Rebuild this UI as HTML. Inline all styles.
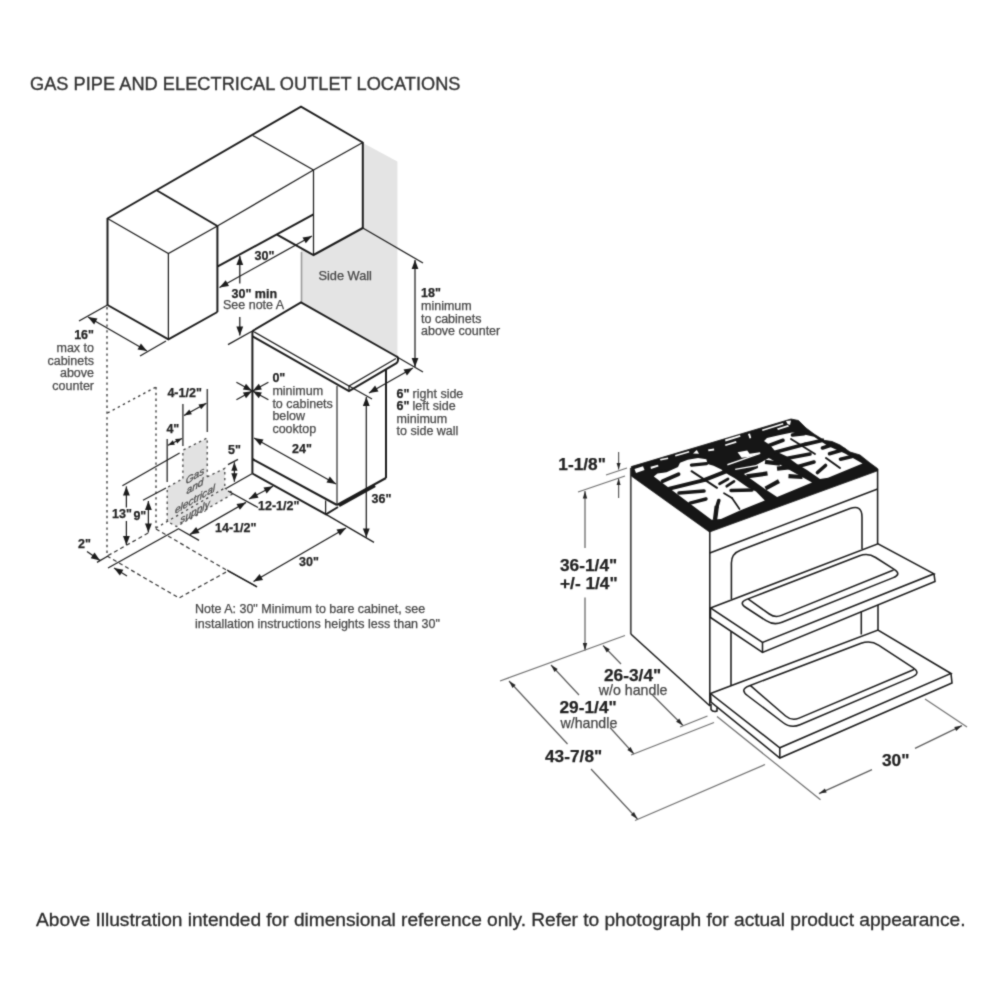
<!DOCTYPE html>
<html lang="en"><head><meta charset="utf-8"><title>Gas pipe and electrical outlet locations</title>
<style>
html,body{margin:0;padding:0;background:#fff;}
body{width:1000px;height:1000px;overflow:hidden;position:relative;font-family:"Liberation Sans",sans-serif;}
svg{position:absolute;left:0;top:0;display:block;}
svg text{font-family:"Liberation Sans",sans-serif;}
</style></head><body>
<svg width="1000" height="1000" viewBox="0 0 1000 1000">
<defs><filter id="soft" filterUnits="userSpaceOnUse" x="0" y="0" width="1000" height="1000" color-interpolation-filters="sRGB"><feConvolveMatrix order="3" kernelMatrix="0.03 0.1 0.03 0.1 0.48 0.1 0.03 0.1 0.03" edgeMode="duplicate" preserveAlpha="true"/></filter></defs>
<g filter="url(#soft)">
<rect width="1000" height="1000" fill="#fff"/>
<text x="30" y="90.4" font-size="18.2" fill="#333" stroke="#333" stroke-width="0.35" textLength="430.5" lengthAdjust="spacing">GAS PIPE AND ELECTRICAL OUTLET LOCATIONS</text>
<g id="left">
<path d="M301,248 L313.5,255 L363,228 L363,143 L397.4,161.5 L397.4,357 L301,302.5 Z" stroke="none" stroke-width="0" fill="#e4e4e4" />
<line x1="301.5" y1="252" x2="301.5" y2="302.5" stroke="#9a9a9a" stroke-width="1.6" />
<path d="M107.5,218.5 L301,106.6 L362.8,142.5" stroke="#1c1c1c" stroke-width="2.0" fill="none" />
<path d="M157,190.5 L217.4,226" stroke="#1c1c1c" stroke-width="2.0" fill="none" />
<path d="M107.5,218.5 L168.4,253.6 L217.4,226" stroke="#1c1c1c" stroke-width="1.25" fill="none" />
<line x1="107.5" y1="218" x2="107.5" y2="305" stroke="#1c1c1c" stroke-width="2.0" />
<line x1="168.4" y1="253.6" x2="168.4" y2="339.4" stroke="#1c1c1c" stroke-width="1.25" />
<line x1="217.4" y1="226" x2="217.4" y2="312" stroke="#1c1c1c" stroke-width="2.0" />
<path d="M107.5,305 L168.4,339.4 L217.4,312" stroke="#1c1c1c" stroke-width="2.0" fill="none" />
<line x1="253" y1="135.6" x2="313.5" y2="170" stroke="#1c1c1c" stroke-width="1.25" />
<line x1="217.4" y1="226" x2="313.5" y2="170" stroke="#1c1c1c" stroke-width="1.25" />
<line x1="217.8" y1="266.4" x2="313.5" y2="214.4" stroke="#1c1c1c" stroke-width="2.0" />
<line x1="362.8" y1="142.5" x2="313.5" y2="170" stroke="#1c1c1c" stroke-width="1.25" />
<line x1="313.5" y1="170" x2="313.5" y2="255" stroke="#1c1c1c" stroke-width="1.25" />
<line x1="362.8" y1="142" x2="362.8" y2="228" stroke="#1c1c1c" stroke-width="2.0" />
<path d="M277,234.6 L313.5,255 L362.8,228" stroke="#1c1c1c" stroke-width="2.0" fill="none" />
<line x1="362.8" y1="228" x2="423" y2="263" stroke="#1c1c1c" stroke-width="1.25" />
<path d="M252.4,331 L301,302.5 L397.4,357" stroke="#1c1c1c" stroke-width="2.0" fill="none" />
<path d="M252.4,331 L349,386 L396,358.5" stroke="#1c1c1c" stroke-width="1.25" fill="none" />
<path d="M252.6,336.4 L349,391 L396.5,363.2 Q398,362 398,360 L398,358.5 Q398,356.8 396.6,356.4" stroke="#1c1c1c" stroke-width="2.0" fill="none" />
<line x1="349" y1="386" x2="349" y2="391" stroke="#1c1c1c" stroke-width="1.25" />
<line x1="252.4" y1="331" x2="252.4" y2="473.5" stroke="#1c1c1c" stroke-width="2.0" />
<line x1="337" y1="386" x2="337" y2="505" stroke="#333" stroke-width="1.25" />
<line x1="386" y1="370" x2="386" y2="478" stroke="#1c1c1c" stroke-width="2.0" />
<line x1="252.4" y1="459" x2="337" y2="505" stroke="#1c1c1c" stroke-width="2.0" />
<path d="M252.4,473.5 L326,514.4 L338,507" stroke="#1c1c1c" stroke-width="2.0" fill="none" />
<line x1="325.6" y1="500.5" x2="325.6" y2="514" stroke="#1c1c1c" stroke-width="1.25" />
<line x1="337" y1="505" x2="386" y2="478" stroke="#1c1c1c" stroke-width="2.0" />
<line x1="339" y1="505.5" x2="375" y2="485.5" stroke="#1c1c1c" stroke-width="3.2" />
<line x1="252.4" y1="473.5" x2="226" y2="488.5" stroke="#1c1c1c" stroke-width="1.25" />
<line x1="326" y1="514.4" x2="374" y2="542.4" stroke="#1c1c1c" stroke-width="1.25" />
<line x1="253.5" y1="581.5" x2="346" y2="528" stroke="#1c1c1c" stroke-width="1.25" />
<polygon points="253.5,581.5 259.6,574.1 263.0,579.9" fill="#1c1c1c"/>
<polygon points="346.0,528.0 339.9,535.4 336.5,529.6" fill="#1c1c1c"/>
<line x1="227" y1="570" x2="257" y2="586.8" stroke="#1c1c1c" stroke-width="1.25" />
<text x="299" y="566" font-size="12.5" font-weight="bold" fill="#222" stroke="#222" stroke-width="0.25" text-anchor="start" >30&quot;</text>
<line x1="366.3" y1="397" x2="366.3" y2="537.5" stroke="#1c1c1c" stroke-width="1.25" />
<polygon points="366.3,397.0 369.7,406.0 362.9,406.0" fill="#1c1c1c"/>
<polygon points="366.3,537.5 362.9,528.5 369.7,528.5" fill="#1c1c1c"/>
<text x="371.5" y="503" font-size="12.5" font-weight="bold" fill="#222" stroke="#222" stroke-width="0.25" text-anchor="start" >36&quot;</text>
<line x1="254" y1="438" x2="336" y2="484" stroke="#1c1c1c" stroke-width="1.25" />
<polygon points="254.0,438.0 263.5,439.4 260.2,445.4" fill="#1c1c1c"/>
<polygon points="336.0,484.0 326.5,482.6 329.8,476.6" fill="#1c1c1c"/>
<text x="292" y="453" font-size="12.5" font-weight="bold" fill="#222" stroke="#222" stroke-width="0.25" text-anchor="start" >24&quot;</text>
<line x1="369" y1="393" x2="413" y2="368" stroke="#1c1c1c" stroke-width="1.25" />
<polygon points="369.0,393.0 375.1,385.6 378.5,391.5" fill="#1c1c1c"/>
<polygon points="413.0,368.0 406.9,375.4 403.5,369.5" fill="#1c1c1c"/>
<line x1="349" y1="386" x2="372" y2="399" stroke="#1c1c1c" stroke-width="1.25" />
<line x1="398" y1="357.5" x2="423" y2="372" stroke="#1c1c1c" stroke-width="1.25" />
<text x="396.5" y="397.6" font-size="12.5" font-weight="bold" fill="#222" stroke="#222" stroke-width="0.25" text-anchor="start" >6&quot;</text>
<text x="412.6" y="397.6" font-size="12.5" font-weight="normal" fill="#474747" stroke="#474747" stroke-width="0.25" text-anchor="start" >right side</text>
<text x="396.5" y="410.2" font-size="12.5" font-weight="bold" fill="#222" stroke="#222" stroke-width="0.25" text-anchor="start" >6&quot;</text>
<text x="412.6" y="410.2" font-size="12.5" font-weight="normal" fill="#474747" stroke="#474747" stroke-width="0.25" text-anchor="start" >left side</text>
<text x="396.5" y="422.8" font-size="12.5" font-weight="normal" fill="#474747" stroke="#474747" stroke-width="0.25" text-anchor="start" >minimum</text>
<text x="396.5" y="435.4" font-size="12.5" font-weight="normal" fill="#474747" stroke="#474747" stroke-width="0.25" text-anchor="start" >to side wall</text>
<line x1="415" y1="260" x2="415" y2="367" stroke="#1c1c1c" stroke-width="1.25" />
<polygon points="415.0,260.0 418.4,269.0 411.6,269.0" fill="#1c1c1c"/>
<polygon points="415.0,367.0 411.6,358.0 418.4,358.0" fill="#1c1c1c"/>
<text x="421" y="297.4" font-size="12.5" font-weight="bold" fill="#222" stroke="#222" stroke-width="0.25" text-anchor="start" >18&quot;</text>
<text x="421" y="310" font-size="12.5" font-weight="normal" fill="#474747" stroke="#474747" stroke-width="0.25" text-anchor="start" >minimum</text>
<text x="421" y="322.6" font-size="12.5" font-weight="normal" fill="#474747" stroke="#474747" stroke-width="0.25" text-anchor="start" >to cabinets</text>
<text x="421" y="335.3" font-size="12.5" font-weight="normal" fill="#474747" stroke="#474747" stroke-width="0.25" text-anchor="start" >above counter</text>
<text x="318.4" y="280.3" font-size="12.8" font-weight="normal" fill="#474747" stroke="#474747" stroke-width="0.25" text-anchor="start" >Side Wall</text>
<line x1="219.5" y1="287.5" x2="312" y2="236" stroke="#1c1c1c" stroke-width="1.25" />
<polygon points="219.5,287.5 225.7,280.2 229.0,286.1" fill="#1c1c1c"/>
<polygon points="312.0,236.0 305.8,243.3 302.5,237.4" fill="#1c1c1c"/>
<text x="254.5" y="260" font-size="12.5" font-weight="bold" fill="#222" stroke="#222" stroke-width="0.25" text-anchor="start" >30&quot;</text>
<line x1="239.8" y1="256" x2="239.8" y2="283.5" stroke="#1c1c1c" stroke-width="1.25" />
<polygon points="239.8,256.0 243.2,265.0 236.4,265.0" fill="#1c1c1c"/>
<line x1="239.8" y1="317" x2="239.8" y2="335.5" stroke="#1c1c1c" stroke-width="1.25" />
<polygon points="239.8,335.5 236.4,326.5 243.2,326.5" fill="#1c1c1c"/>
<line x1="228" y1="344.6" x2="252.4" y2="331" stroke="#1c1c1c" stroke-width="1.25" />
<text x="231.5" y="297.6" font-size="12.5" font-weight="bold" fill="#222" stroke="#222" stroke-width="0.25" text-anchor="start" >30&quot; min</text>
<text x="223" y="309.2" font-size="12.5" font-weight="normal" fill="#474747" stroke="#474747" stroke-width="0.25" text-anchor="start" >See note A</text>
<line x1="236.4" y1="382.2" x2="251.9" y2="390.725" stroke="#1c1c1c" stroke-width="1.25" />
<polygon points="251.9,390.7 242.9,389.5 246.0,383.8" fill="#1c1c1c"/>
<line x1="236.4" y1="399.8" x2="251.9" y2="391.275" stroke="#1c1c1c" stroke-width="1.25" />
<polygon points="251.9,391.3 246.0,398.2 242.9,392.5" fill="#1c1c1c"/>
<line x1="268.4" y1="382.2" x2="252.9" y2="390.725" stroke="#1c1c1c" stroke-width="1.25" />
<polygon points="252.9,390.7 258.8,383.8 261.9,389.5" fill="#1c1c1c"/>
<line x1="268.4" y1="399.8" x2="252.9" y2="391.275" stroke="#1c1c1c" stroke-width="1.25" />
<polygon points="252.9,391.3 261.9,392.5 258.8,398.2" fill="#1c1c1c"/>
<text x="272.4" y="382" font-size="12.5" font-weight="bold" fill="#222" stroke="#222" stroke-width="0.25" text-anchor="start" >0&quot;</text>
<text x="272.4" y="395" font-size="12.5" font-weight="normal" fill="#474747" stroke="#474747" stroke-width="0.25" text-anchor="start" >minimum</text>
<text x="272.4" y="407.5" font-size="12.5" font-weight="normal" fill="#474747" stroke="#474747" stroke-width="0.25" text-anchor="start" >to cabinets</text>
<text x="272.4" y="420" font-size="12.5" font-weight="normal" fill="#474747" stroke="#474747" stroke-width="0.25" text-anchor="start" >below</text>
<text x="272.4" y="432.5" font-size="12.5" font-weight="normal" fill="#474747" stroke="#474747" stroke-width="0.25" text-anchor="start" >cooktop</text>
<line x1="88" y1="317" x2="147" y2="351" stroke="#1c1c1c" stroke-width="1.25" />
<polygon points="88.0,317.0 97.5,318.5 94.1,324.4" fill="#1c1c1c"/>
<polygon points="147.0,351.0 137.5,349.5 140.9,343.6" fill="#1c1c1c"/>
<line x1="107.5" y1="305" x2="79" y2="321" stroke="#1c1c1c" stroke-width="1.25" />
<line x1="166" y1="341" x2="140" y2="356" stroke="#1c1c1c" stroke-width="1.25" />
<text x="94" y="339" font-size="12.5" font-weight="bold" fill="#222" stroke="#222" stroke-width="0.25" text-anchor="end" >16&quot;</text>
<text x="94" y="352" font-size="12.5" font-weight="normal" fill="#474747" stroke="#474747" stroke-width="0.25" text-anchor="end" >max to</text>
<text x="94" y="364.6" font-size="12.5" font-weight="normal" fill="#474747" stroke="#474747" stroke-width="0.25" text-anchor="end" >cabinets</text>
<text x="94" y="377.3" font-size="12.5" font-weight="normal" fill="#474747" stroke="#474747" stroke-width="0.25" text-anchor="end" >above</text>
<text x="94" y="390" font-size="12.5" font-weight="normal" fill="#474747" stroke="#474747" stroke-width="0.25" text-anchor="end" >counter</text>
<line x1="107" y1="307" x2="107" y2="557" stroke="#333" stroke-width="1.3" stroke-dasharray="2.4 3.4"/>
<line x1="156" y1="387" x2="156" y2="529" stroke="#333" stroke-width="1.3" stroke-dasharray="2.4 3.4"/>
<line x1="107.5" y1="413" x2="156" y2="387" stroke="#333" stroke-width="1.3" stroke-dasharray="2.4 3.4"/>
<path d="M107,556 L179,598 L228,571" stroke="#333" stroke-width="1.2" fill="none" stroke-dasharray="4 3"/>
<line x1="156" y1="529" x2="228" y2="571" stroke="#333" stroke-width="1.2" stroke-dasharray="4 3"/>
<line x1="228" y1="571" x2="257" y2="587" stroke="#1c1c1c" stroke-width="1.25" />
<line x1="108" y1="555.6" x2="150" y2="532" stroke="#333" stroke-width="1.2" stroke-dasharray="4 3"/>
<path d="M182.9,450.2 L207.2,438 L207.2,476.8 L224.8,468.4 L224.8,488 L233.6,493.4 L176.5,526.6 L167.2,521.3 L167.2,487.6 L182.9,478.6 Z" stroke="none" stroke-width="0" fill="#e2e2e2" />
<path d="M182.9,478.6 L182.9,450.2 L207.2,438 L207.2,476.8" stroke="#444" stroke-width="1.3" fill="none" stroke-dasharray="2.4 3.4"/>
<path d="M167.2,521.3 L167.2,487.6 L182.9,478.6" stroke="#444" stroke-width="1.3" fill="none" stroke-dasharray="2.4 3.4"/>
<path d="M207.2,476.8 L224.8,468.4 L224.8,488" stroke="#444" stroke-width="1.3" fill="none" stroke-dasharray="2.4 3.4"/>
<path d="M224.8,488 L233.6,493.4 L176.5,526.6 L167.2,521.3" stroke="#444" stroke-width="1.3" fill="none" stroke-dasharray="2.4 3.4"/>
<line x1="156" y1="528" x2="224.8" y2="488" stroke="#444" stroke-width="1.3" stroke-dasharray="2.4 3.4"/>
<text transform="matrix(1,-0.577,0,1,195,479)" x="0" y="0" font-style="italic" font-size="10.2" fill="#4c4c4c" stroke="#4c4c4c" stroke-width="0.3" text-anchor="middle">Gas</text>
<text transform="matrix(1,-0.577,0,1,195,489.5)" x="0" y="0" font-style="italic" font-size="10.2" fill="#4c4c4c" stroke="#4c4c4c" stroke-width="0.3" text-anchor="middle">and</text>
<text transform="matrix(1,-0.577,0,1,195,502.5)" x="0" y="0" font-style="italic" font-size="10.2" fill="#4c4c4c" stroke="#4c4c4c" stroke-width="0.3" text-anchor="middle">electrical</text>
<text transform="matrix(1,-0.577,0,1,195,515)" x="0" y="0" font-style="italic" font-size="10.2" fill="#4c4c4c" stroke="#4c4c4c" stroke-width="0.3" text-anchor="middle">supply</text>
<line x1="207.3" y1="389" x2="207.3" y2="432" stroke="#444" stroke-width="1.5" />
<line x1="182.9" y1="404" x2="182.9" y2="446" stroke="#444" stroke-width="1.5" />
<line x1="184" y1="415.5" x2="206.4" y2="403.2" stroke="#1c1c1c" stroke-width="1.25" />
<polygon points="184.0,415.5 189.3,409.5 191.9,414.3" fill="#1c1c1c"/>
<polygon points="206.4,403.2 201.1,409.2 198.5,404.4" fill="#1c1c1c"/>
<text x="167.4" y="397" font-size="12.5" font-weight="bold" fill="#222" stroke="#222" stroke-width="0.25" text-anchor="start" >4-1/2&quot;</text>
<line x1="167.2" y1="439" x2="167.2" y2="482" stroke="#444" stroke-width="1.5" />
<line x1="168" y1="445.3" x2="182" y2="438.5" stroke="#1c1c1c" stroke-width="1.25" />
<polygon points="168.0,445.3 172.8,440.2 174.9,444.7" fill="#1c1c1c"/>
<polygon points="182.0,438.5 177.2,443.6 175.1,439.1" fill="#1c1c1c"/>
<text x="166.4" y="433" font-size="12.5" font-weight="bold" fill="#222" stroke="#222" stroke-width="0.25" text-anchor="start" >4&quot;</text>
<line x1="234.4" y1="462.3" x2="234.4" y2="481.8" stroke="#1c1c1c" stroke-width="1.25" />
<polygon points="234.4,462.3 237.5,470.8 231.3,470.8" fill="#1c1c1c"/>
<polygon points="234.4,481.8 231.3,473.3 237.5,473.3" fill="#1c1c1c"/>
<line x1="228" y1="464.6" x2="238" y2="459.4" stroke="#1c1c1c" stroke-width="1.25" />
<text x="228" y="454.4" font-size="12.5" font-weight="bold" fill="#222" stroke="#222" stroke-width="0.25" text-anchor="start" >5&quot;</text>
<line x1="249" y1="499" x2="273" y2="486.3" stroke="#1c1c1c" stroke-width="1.25" />
<polygon points="249.0,499.0 255.4,491.8 258.5,497.8" fill="#1c1c1c"/>
<polygon points="273.0,486.3 266.6,493.5 263.5,487.5" fill="#1c1c1c"/>
<line x1="228" y1="491" x2="258" y2="507.5" stroke="#1c1c1c" stroke-width="1.25" />
<text x="258" y="510" font-size="12.5" font-weight="bold" fill="#222" stroke="#222" stroke-width="0.25" text-anchor="start" >12-1/2&quot;</text>
<line x1="190" y1="534.4" x2="246" y2="502.4" stroke="#1c1c1c" stroke-width="1.25" />
<polygon points="190.0,534.4 196.1,527.0 199.5,532.9" fill="#1c1c1c"/>
<polygon points="246.0,502.4 239.9,509.8 236.5,503.9" fill="#1c1c1c"/>
<line x1="179" y1="529" x2="199" y2="540.4" stroke="#1c1c1c" stroke-width="1.25" />
<text x="215" y="532.4" font-size="12.5" font-weight="bold" fill="#222" stroke="#222" stroke-width="0.25" text-anchor="start" >14-1/2&quot;</text>
<line x1="122.4" y1="485.8" x2="179.6" y2="453" stroke="#1c1c1c" stroke-width="1.25" />
<line x1="126.4" y1="486.4" x2="126.4" y2="507.5" stroke="#1c1c1c" stroke-width="1.25" />
<polygon points="126.4,486.4 129.8,495.4 123.0,495.4" fill="#1c1c1c"/>
<line x1="126.4" y1="521" x2="126.4" y2="545" stroke="#1c1c1c" stroke-width="1.25" />
<polygon points="126.4,545.0 123.0,536.0 129.8,536.0" fill="#1c1c1c"/>
<text x="112" y="518.4" font-size="12.5" font-weight="bold" fill="#222" stroke="#222" stroke-width="0.25" text-anchor="start" >13&quot;</text>
<line x1="143" y1="500.2" x2="166" y2="488" stroke="#1c1c1c" stroke-width="1.25" />
<line x1="148.4" y1="501" x2="148.4" y2="532.5" stroke="#1c1c1c" stroke-width="1.25" />
<polygon points="148.4,501.0 151.8,510.0 145.0,510.0" fill="#1c1c1c"/>
<polygon points="148.4,532.5 145.0,523.5 151.8,523.5" fill="#1c1c1c"/>
<text x="133.4" y="520" font-size="12.5" font-weight="bold" fill="#222" stroke="#222" stroke-width="0.25" text-anchor="start" >9&quot;</text>
<line x1="108" y1="568" x2="179" y2="528.5" stroke="#1c1c1c" stroke-width="1.25" />
<line x1="97" y1="562.4" x2="108" y2="556" stroke="#1c1c1c" stroke-width="1.25" />
<line x1="87" y1="551.5" x2="100" y2="560.5" stroke="#1c1c1c" stroke-width="1.25" />
<polygon points="100.0,560.5 90.7,558.2 94.5,552.6" fill="#1c1c1c"/>
<line x1="127" y1="576" x2="114" y2="568" stroke="#1c1c1c" stroke-width="1.25" />
<polygon points="114.0,568.0 123.4,569.8 119.9,575.6" fill="#1c1c1c"/>
<text x="78" y="548" font-size="12.5" font-weight="bold" fill="#222" stroke="#222" stroke-width="0.25" text-anchor="start" >2&quot;</text>
<text x="195" y="613" font-size="12.5" font-weight="normal" fill="#474747" stroke="#474747" stroke-width="0.25" text-anchor="start" >Note A: 30&quot; Minimum to bare cabinet, see</text>
<text x="195" y="628.4" font-size="12.5" font-weight="normal" fill="#474747" stroke="#474747" stroke-width="0.25" text-anchor="start" >installation instructions heights less than 30&quot;</text>
</g>
<g id="right">
<line x1="630.8" y1="468" x2="630.8" y2="634" stroke="#4a4a4a" stroke-width="1.8" />
<line x1="630.8" y1="634" x2="710" y2="706" stroke="#1c1c1c" stroke-width="1.55" />
<line x1="709.8" y1="531" x2="709.8" y2="706" stroke="#1c1c1c" stroke-width="1.55" />
<line x1="877.6" y1="469" x2="877.6" y2="544" stroke="#1c1c1c" stroke-width="1.55" />
<line x1="709.8" y1="553" x2="877.6" y2="489" stroke="#1c1c1c" stroke-width="1.55" />
<path d="M731.4,599 L731.4,563 Q731.4,553.5 740.5,550.2 L850,508.6 Q862,504.5 862,517 L862,549" stroke="#1c1c1c" stroke-width="1.55" fill="none" />
<line x1="731" y1="631.5" x2="731" y2="685.5" stroke="#1c1c1c" stroke-width="1.55" />
<line x1="861.3" y1="611.5" x2="861.3" y2="634.5" stroke="#1c1c1c" stroke-width="1.55" />
<line x1="878" y1="605" x2="878" y2="630" stroke="#1c1c1c" stroke-width="1.55" />
<path d="M710.5,608 L878,543.8 L934,573.8 L762.5,642.5 Z" stroke="#1c1c1c" stroke-width="1.55" fill="none" />
<path d="M710.5,608 L710.5,617.5 L762.5,652.5 L935,581.5 L934,573.8" stroke="#1c1c1c" stroke-width="1.55" fill="none" />
<line x1="762.5" y1="642.5" x2="762.5" y2="652.5" stroke="#1c1c1c" stroke-width="1.55" />
<path d="M745.8,607.5 Q738.3,602.6 746.7,599.4 L859.6,555.8 Q868.0,552.6 875.6,557.5 L894.2,569.4 Q901.8,574.3 893.4,577.6 L782.0,622.3 Q773.6,625.6 766.1,620.7 Z" stroke="#1c1c1c" stroke-width="1.55" fill="none" />
<path d="M748.0,598.9 L769.3,614.0 Q775.0,618.0 781.5,615.4 L893.6,570.0" stroke="#1c1c1c" stroke-width="1.55" fill="none" />
<path d="M710.5,693.5 L878,630 L951,673.5 L779.8,747.8 Z" stroke="#1c1c1c" stroke-width="1.55" fill="none" />
<path d="M710.5,693.5 L711,702 L779.8,758 L952,683 L951,673.5" stroke="#1c1c1c" stroke-width="1.55" fill="none" />
<line x1="779.8" y1="747.8" x2="779.8" y2="758" stroke="#1c1c1c" stroke-width="1.55" />
<path d="M747.4,695.5 Q739.5,689.4 748.9,685.9 L861.1,643.3 Q870.5,639.8 878.9,645.3 L912.9,667.7 Q921.3,673.2 912.1,677.1 L800.0,724.7 Q790.8,728.6 782.9,722.5 Z" stroke="#1c1c1c" stroke-width="1.55" fill="none" />
<path d="M750.5,685.6 L785.6,716.0 Q791.7,721.2 799.1,718.1 L914.0,669.5" stroke="#1c1c1c" stroke-width="1.55" fill="none" />
<path d="M711,704 L711,709.5 Q713,712.5 717,711 L717,707.5" stroke="#1c1c1c" stroke-width="1.55" fill="none" />
<path d="M631.3,466.6 L791,419 L798.5,420.5 L806,428 L814,434 L824,440.3 L832,441.5 L840,445 L850,452 L860,455 L870,463 L877.6,468.6 L877.6,470.8 L709.5,532 L631.3,476 Z" stroke="#161616" stroke-width="0.8" fill="#161616" />
<polygon points="634.5,469.0 643.0,466.2 644.5,470.0 636.0,473.0" fill="#fff"/>
<polygon points="650.5,466.8 658.0,464.8 658.5,466.5 651.0,469.0" fill="#fff"/>
<polygon points="660.0,459.0 668.0,457.5 668.2,459.0 660.5,460.5" fill="#fff"/>
<polygon points="675.0,455.0 689.0,451.0 689.3,452.5 675.5,456.5" fill="#fff"/>
<polygon points="693.0,453.5 696.8,450.0 699.0,453.8" fill="#fff"/>
<polygon points="708.0,449.5 714.0,448.5 714.2,450.5 708.5,451.2" fill="#fff"/>
<polygon points="725.0,439.5 740.0,435.0 740.5,436.8 725.5,441.5" fill="#fff"/>
<polygon points="725.0,444.5 736.0,441.0 736.5,442.8 725.5,446.0" fill="#fff"/>
<polygon points="748.0,434.0 750.0,433.5 751.2,438.0 749.5,438.5" fill="#fff"/>
<polygon points="762.0,429.5 783.0,423.0 783.5,424.6 762.5,431.0" fill="#fff"/>
<polygon points="777.0,428.5 788.0,425.0 789.0,426.5 778.0,430.0" fill="#fff"/>
<polygon points="786.0,421.0 791.0,420.5 790.0,425.0 787.5,424.0" fill="#fff"/>
<polygon points="653.8,476.5 657.5,473.5 666.5,472.2 678.0,467.0 680.0,462.8 687.8,459.8 698.0,458.0 706.4,459.2 707.5,464.0 713.6,465.8 721.4,469.4 722.5,470.8 729.0,475.0 734.4,478.0 748.0,487.6 756.0,491.6 764.8,500.4 740.0,510.5 721.0,519.0 711.5,519.8" fill="#fff"/>
<line x1="662.5" y1="481.2" x2="678.5" y2="474.2" stroke="#161616" stroke-width="3.8" stroke-linecap="round"/>
<line x1="668.5" y1="488.8" x2="705.0" y2="479.9" stroke="#161616" stroke-width="3.8" stroke-linecap="butt"/>
<line x1="704.0" y1="480.1" x2="730.0" y2="469.8" stroke="#161616" stroke-width="4.0" stroke-linecap="butt"/>
<line x1="719.6" y1="483.8" x2="728.0" y2="479.0" stroke="#161616" stroke-width="2.8" stroke-linecap="round"/>
<line x1="726.8" y1="486.2" x2="734.0" y2="481.4" stroke="#161616" stroke-width="2.8" stroke-linecap="round"/>
<line x1="691.5" y1="471.2" x2="717.0" y2="487.8" stroke="#161616" stroke-width="2.0" stroke-linecap="round"/>
<line x1="679.0" y1="493.0" x2="704.0" y2="491.0" stroke="#161616" stroke-width="3.6" stroke-linecap="round"/>
<line x1="690.0" y1="503.2" x2="706.0" y2="499.0" stroke="#161616" stroke-width="3.4" stroke-linecap="round"/>
<line x1="715.0" y1="520.0" x2="716.8" y2="506.0" stroke="#161616" stroke-width="4.4" stroke-linecap="butt"/>
<line x1="716.8" y1="507.0" x2="718.8" y2="500.5" stroke="#161616" stroke-width="3.6" stroke-linecap="round"/>
<line x1="724.0" y1="493.2" x2="732.0" y2="498.0" stroke="#161616" stroke-width="1.7" stroke-linecap="round"/>
<line x1="732.0" y1="498.0" x2="739.5" y2="509.0" stroke="#161616" stroke-width="1.7" stroke-linecap="round"/>
<line x1="731.0" y1="490.5" x2="752.0" y2="490.0" stroke="#161616" stroke-width="3.4" stroke-linecap="round"/>
<line x1="691.4" y1="465.2" x2="706.5" y2="463.6" stroke="#161616" stroke-width="3.2" stroke-linecap="round"/>
<line x1="654.0" y1="471.5" x2="665.0" y2="470.8" stroke="#161616" stroke-width="2.6" stroke-linecap="round"/>
<polygon points="737.6,452.2 747.2,450.6 749.6,453.8 760.0,452.2 760.4,453.6 748.0,457.0 741.6,457.8" fill="#fff"/>
<polygon points="727.2,464.0 760.0,452.8 760.2,454.0 727.6,465.4" fill="#fff"/>
<polygon points="735.0,468.8 756.0,465.0 769.0,458.0 769.5,459.2 756.5,466.2 735.4,470.0" fill="#fff"/>
<polygon points="743.9,474.0 757.9,468.1 757.9,464.6 767.0,459.7 769.8,458.6 781.0,465.3 795.0,473.0 812.0,482.5 777.1,497.1 764.2,488.4 754.4,481.4" fill="#fff"/>
<line x1="746.5" y1="476.4" x2="767.5" y2="473.4" stroke="#161616" stroke-width="4.2" stroke-linecap="butt"/>
<line x1="765.0" y1="461.8" x2="780.0" y2="463.6" stroke="#161616" stroke-width="4.2" stroke-linecap="butt"/>
<line x1="765.5" y1="488.5" x2="779.0" y2="481.2" stroke="#161616" stroke-width="4.2" stroke-linecap="butt"/>
<line x1="777.0" y1="468.7" x2="789.0" y2="467.3" stroke="#161616" stroke-width="4.2" stroke-linecap="butt"/>
<line x1="788.5" y1="476.2" x2="802.5" y2="477.0" stroke="#161616" stroke-width="4.2" stroke-linecap="butt"/>
<polygon points="764.0,441.0 767.0,438.0 780.0,435.0 792.0,432.5 803.0,434.2 814.0,436.8 828.0,446.0 845.0,453.5 862.5,463.5 828.0,477.8 820.0,479.0 807.0,470.0 797.0,464.0 786.0,456.0 775.0,451.0 770.0,445.0" fill="#fff"/>
<line x1="769.0" y1="445.5" x2="783.0" y2="440.3" stroke="#161616" stroke-width="3.6" stroke-linecap="round"/>
<line x1="774.0" y1="452.5" x2="806.0" y2="444.0" stroke="#161616" stroke-width="3.8" stroke-linecap="butt"/>
<line x1="805.0" y1="444.3" x2="824.0" y2="440.0" stroke="#161616" stroke-width="3.8" stroke-linecap="butt"/>
<line x1="791.0" y1="439.0" x2="815.0" y2="454.0" stroke="#161616" stroke-width="1.8" stroke-linecap="round"/>
<line x1="786.0" y1="458.4" x2="810.0" y2="454.0" stroke="#161616" stroke-width="3.6" stroke-linecap="round"/>
<line x1="798.0" y1="466.5" x2="814.0" y2="462.0" stroke="#161616" stroke-width="3.6" stroke-linecap="round"/>
<line x1="817.5" y1="472.5" x2="825.5" y2="465.5" stroke="#161616" stroke-width="3.6" stroke-linecap="round"/>
<line x1="826.0" y1="458.0" x2="840.0" y2="468.0" stroke="#161616" stroke-width="2.0" stroke-linecap="round"/>
<line x1="822.5" y1="448.0" x2="833.0" y2="444.5" stroke="#161616" stroke-width="3.6" stroke-linecap="round"/>
<line x1="829.5" y1="453.7" x2="844.0" y2="449.5" stroke="#161616" stroke-width="3.6" stroke-linecap="round"/>
<line x1="840.5" y1="459.2" x2="852.0" y2="456.5" stroke="#161616" stroke-width="3.6" stroke-linecap="round"/>
<line x1="792.5" y1="435.0" x2="804.0" y2="433.6" stroke="#161616" stroke-width="3.6" stroke-linecap="round"/>
<text x="558.3" y="470" font-size="17.3" font-weight="bold" fill="#222" stroke="#222" stroke-width="0.25" text-anchor="start" >1-1/8&quot;</text>
<line x1="606" y1="475" x2="627" y2="468" stroke="#707070" stroke-width="1.2" />
<line x1="578" y1="492" x2="625" y2="476" stroke="#707070" stroke-width="1.2" />
<line x1="618.6" y1="452" x2="618.6" y2="469.5" stroke="#5c5c5c" stroke-width="1.2" />
<polygon points="618.6,469.5 616.6,463.0 620.6,463.0" fill="#262626"/>
<line x1="618.6" y1="498" x2="618.6" y2="478.5" stroke="#5c5c5c" stroke-width="1.2" />
<polygon points="618.6,478.5 620.6,485.0 616.6,485.0" fill="#262626"/>
<line x1="585" y1="491" x2="585" y2="548" stroke="#5c5c5c" stroke-width="1.2" />
<polygon points="585.0,491.0 587.2,498.5 582.8,498.5" fill="#262626"/>
<line x1="585" y1="597.5" x2="585" y2="650.5" stroke="#5c5c5c" stroke-width="1.2" />
<polygon points="585.0,650.5 582.8,643.0 587.2,643.0" fill="#262626"/>
<text x="560.0" y="570.5" font-size="17.3" font-weight="bold" fill="#222" stroke="#222" stroke-width="0.25" text-anchor="start" >36-1/4&quot;</text>
<text x="560.0" y="588.5" font-size="17.3" font-weight="bold" fill="#222" stroke="#222" stroke-width="0.25" text-anchor="start" >+/- 1/4&quot;</text>
<line x1="500" y1="681" x2="625" y2="635.5" stroke="#707070" stroke-width="1.2" />
<line x1="603" y1="645.5" x2="621" y2="664" stroke="#5c5c5c" stroke-width="1.2" />
<polygon points="603.0,645.5 609.8,649.3 606.7,652.4" fill="#262626"/>
<line x1="652.5" y1="695" x2="683" y2="725.5" stroke="#5c5c5c" stroke-width="1.2" />
<polygon points="683.0,725.5 676.1,721.8 679.3,718.6" fill="#262626"/>
<line x1="680" y1="727" x2="707.5" y2="716" stroke="#707070" stroke-width="1.2" />
<text x="604.0" y="680.5" font-size="17.3" font-weight="bold" fill="#222" stroke="#222" stroke-width="0.25" text-anchor="start" >26-3/4&quot;</text>
<text x="598.8" y="695.1" font-size="14.2" font-weight="normal" fill="#444" stroke="#444" stroke-width="0.25" text-anchor="start" >w/o handle</text>
<line x1="551" y1="665" x2="579" y2="695" stroke="#5c5c5c" stroke-width="1.2" />
<polygon points="551.0,665.0 557.7,669.0 554.5,672.0" fill="#262626"/>
<line x1="610" y1="727.5" x2="634" y2="754" stroke="#5c5c5c" stroke-width="1.2" />
<polygon points="634.0,754.0 627.3,749.9 630.6,747.0" fill="#262626"/>
<line x1="631" y1="755" x2="714" y2="722.5" stroke="#707070" stroke-width="1.2" />
<text x="559.5" y="713.0" font-size="17.3" font-weight="bold" fill="#222" stroke="#222" stroke-width="0.25" text-anchor="start" >29-1/4&quot;</text>
<text x="560.5" y="727.7" font-size="14.2" font-weight="normal" fill="#444" stroke="#444" stroke-width="0.25" text-anchor="start" >w/handle</text>
<line x1="509" y1="681" x2="567.5" y2="744" stroke="#5c5c5c" stroke-width="1.2" />
<polygon points="509.0,681.0 515.7,685.0 512.5,688.0" fill="#262626"/>
<line x1="591" y1="769" x2="637.5" y2="819" stroke="#5c5c5c" stroke-width="1.2" />
<polygon points="637.5,819.0 630.8,815.0 634.0,812.0" fill="#262626"/>
<line x1="635" y1="820.5" x2="765" y2="764.5" stroke="#707070" stroke-width="1.2" />
<text x="545.0" y="761.5" font-size="17.3" font-weight="bold" fill="#222" stroke="#222" stroke-width="0.25" text-anchor="start" >43-7/8&quot;</text>
<line x1="717" y1="716.5" x2="820.5" y2="799.8" stroke="#707070" stroke-width="1.2" />
<line x1="925" y1="699" x2="967" y2="727" stroke="#707070" stroke-width="1.2" />
<line x1="819" y1="793.6" x2="872" y2="769.6" stroke="#5c5c5c" stroke-width="1.2" />
<polygon points="819.0,793.6 824.9,788.5 826.7,792.5" fill="#262626"/>
<line x1="915" y1="748.4" x2="962" y2="725.6" stroke="#5c5c5c" stroke-width="1.2" />
<polygon points="962.0,725.6 956.2,730.9 954.3,726.9" fill="#262626"/>
<text x="882.0" y="765.5" font-size="17.3" font-weight="bold" fill="#222" stroke="#222" stroke-width="0.25" text-anchor="start" >30&quot;</text>
</g>
<text x="36" y="926.3" font-size="19.2" fill="#2a2a2a" stroke="#2a2a2a" stroke-width="0.3" textLength="929.5" lengthAdjust="spacing">Above Illustration intended for dimensional reference only. Refer to photograph for actual product appearance.</text>
</g>
</svg>
</body></html>
